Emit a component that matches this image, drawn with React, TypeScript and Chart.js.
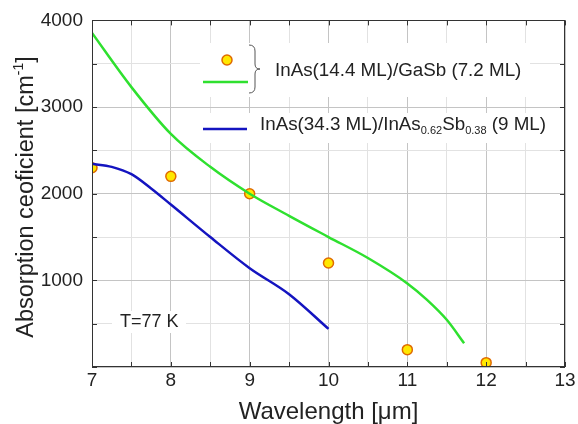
import React, { useEffect, useRef } from "react";
import { Chart, registerables } from "chart.js";
Chart.register(...registerables);

// Measured data points (yellow circles)
const dotX = [7, 8, 9, 10, 11, 12];
const dotY = [2300, 2200, 2000, 1200, 200, 50];

// Green curve: InAs(14.4 ML)/GaSb (7.2 ML)
const greenX = [7.0, 7.5, 8.0, 8.5, 9.0, 9.5, 10.0, 10.5, 11.0, 11.25, 11.5, 11.72];
const greenY = [3855, 3230, 2690, 2310, 2000, 1745, 1500, 1258, 965, 775, 545, 275];

// Blue curve: InAs(34.3 ML)/InAs0.62Sb0.38 (9 ML)
const blueX = [7.0, 7.25, 7.5, 7.75, 8.0, 8.5, 9.0, 9.5, 10.0];
const blueY = [2345, 2310, 2225, 2060, 1875, 1500, 1140, 840, 440];

const xMin = 7, xMax = 13, xStep = 0.5;
const yMin = 0, yMax = 4000, yStep = 500;
const xLabelStep = 1;
const yLabelStep = 1000;

const FONT = '"Liberation Sans", Arial, sans-serif';
const TXT = "#222";
const GREEN = "#2fe02f";
const BLUE = "#1414c0";
const DOT_FILL = "#ffe800";
const DOT_EDGE = "#e06a00";

type Seg = { t: string; size: number; dy: number };

function drawSegs(ctx: CanvasRenderingContext2D, segs: Seg[], x: number, y: number) {
  let cx = x;
  for (const s of segs) {
    ctx.font = `${s.size}px ${FONT}`;
    ctx.fillText(s.t, cx, y + s.dy);
    cx += ctx.measureText(s.t).width;
  }
  return cx - x;
}
function segsWidth(ctx: CanvasRenderingContext2D, segs: Seg[]) {
  let w = 0;
  for (const s of segs) {
    ctx.font = `${s.size}px ${FONT}`;
    w += ctx.measureText(s.t).width;
  }
  return w;
}

const decor = {
  id: "decor",
  afterDraw(chart: any) {
    const ctx: CanvasRenderingContext2D = chart.ctx;
    const a = chart.chartArea;
    const xs = chart.scales.x;
    const ys = chart.scales.y;
    ctx.save();

    // Frame with inward ticks on all sides
    ctx.strokeStyle = "#333";
    ctx.lineWidth = 1;
    ctx.strokeRect(Math.round(a.left) + 0.5, Math.round(a.top) + 0.5, Math.round(a.right - a.left) - 1, Math.round(a.bottom - a.top) - 1);
    ctx.beginPath();
    for (let v = xMin; v <= xMax + 1e-9; v += xStep) {
      const px = Math.round(xs.getPixelForValue(v)) + 0.5;
      ctx.moveTo(px, a.bottom); ctx.lineTo(px, a.bottom - 5);
      ctx.moveTo(px, a.top); ctx.lineTo(px, a.top + 5);
    }
    for (let v = yMin; v <= yMax + 1e-9; v += yStep) {
      const py = Math.round(ys.getPixelForValue(v)) + 0.5;
      ctx.moveTo(a.left, py); ctx.lineTo(a.left + 5, py);
      ctx.moveTo(a.right, py); ctx.lineTo(a.right - 5, py);
    }
    ctx.stroke();

    // Legend boxes (white background)
    ctx.fillStyle = "#fff";
    ctx.fillRect(200, 43, 330, 54);
    ctx.fillRect(200, 113, 348, 30);
    ctx.fillRect(112, 311, 74, 22);

    // Legend entry 1: dot + green line + brace
    ctx.beginPath();
    ctx.arc(227, 60, 5, 0, Math.PI * 2);
    ctx.fillStyle = DOT_FILL;
    ctx.fill();
    ctx.lineWidth = 1.5;
    ctx.strokeStyle = DOT_EDGE;
    ctx.stroke();

    ctx.beginPath();
    ctx.moveTo(203, 82); ctx.lineTo(248, 82);
    ctx.strokeStyle = GREEN; ctx.lineWidth = 2.5; ctx.stroke();

    ctx.beginPath();
    ctx.strokeStyle = "#555"; ctx.lineWidth = 1;
    ctx.moveTo(249, 45);
    ctx.quadraticCurveTo(255, 45, 255, 51);
    ctx.lineTo(255, 64);
    ctx.quadraticCurveTo(255, 69, 260, 69);
    ctx.quadraticCurveTo(255, 69, 255, 74);
    ctx.lineTo(255, 87);
    ctx.quadraticCurveTo(255, 93, 249, 93);
    ctx.stroke();

    ctx.fillStyle = TXT;
    ctx.textBaseline = "middle";
    ctx.textAlign = "left";
    drawSegs(ctx, [{ t: "InAs(14.4 ML)/GaSb (7.2 ML)", size: 18.8, dy: 0 }], 275, 71);

    // Legend entry 2
    ctx.beginPath();
    ctx.moveTo(203, 129); ctx.lineTo(247, 129);
    ctx.strokeStyle = BLUE; ctx.lineWidth = 2.5; ctx.stroke();
    ctx.fillStyle = TXT;
    drawSegs(ctx, [
      { t: "InAs(34.3 ML)/InAs", size: 18.8, dy: 0 },
      { t: "0.62", size: 11, dy: 6 },
      { t: "Sb", size: 18.8, dy: 0 },
      { t: "0.38", size: 11, dy: 6 },
      { t: " (9 ML)", size: 18.8, dy: 0 },
    ], 260, 125);

    // Temperature note
    drawSegs(ctx, [{ t: "T=77 K", size: 18, dy: 0 }], 120, 322);

    // X title
    ctx.textAlign = "center";
    ctx.font = `24px ${FONT}`;
    ctx.fillText("Wavelength [\u03bcm]", 328.5, 412);

    // Y title (rotated) with superscript
    ctx.textAlign = "left";
    const ySegs: Seg[] = [
      { t: "Absorption ceoficient [cm", size: 23.5, dy: 0 },
      { t: "-1", size: 14, dy: -8 },
      { t: "]", size: 23.5, dy: 0 },
    ];
    ctx.translate(27, 197);
    ctx.rotate(-Math.PI / 2);
    const w = segsWidth(ctx, ySegs);
    drawSegs(ctx, ySegs, -w / 2, 0);

    ctx.restore();
  },
};

export default function App() {
  const ref = useRef<HTMLCanvasElement | null>(null);
  useEffect(() => {
    if (!ref.current) return;
    const chart = new Chart(ref.current, {
      type: "scatter",
      data: {
        datasets: [
          {
            label: "green",
            data: greenX.map((x, i) => ({ x, y: greenY[i] })),
            showLine: true,
            borderColor: GREEN,
            borderWidth: 2.5,
            pointRadius: 0,
            cubicInterpolationMode: "monotone",
            clip: 0,
          } as any,
          {
            label: "blue",
            data: blueX.map((x, i) => ({ x, y: blueY[i] })),
            showLine: true,
            borderColor: BLUE,
            borderWidth: 2.5,
            pointRadius: 0,
            cubicInterpolationMode: "monotone",
            clip: 0,
          } as any,
          {
            label: "dots",
            data: dotX.map((x, i) => ({ x, y: dotY[i] })),
            showLine: false,
            pointRadius: 5,
            pointBackgroundColor: DOT_FILL,
            pointBorderColor: DOT_EDGE,
            pointBorderWidth: 1.5,
            clip: 0,
          } as any,
        ],
      },
      options: {
        animation: false,
        responsive: false,
        devicePixelRatio: 1,
        layout: { padding: { top: 18, right: 13, left: 0, bottom: 0 } },
        plugins: { legend: { display: false }, tooltip: { enabled: false } },
        scales: {
          x: {
            type: "linear",
            min: xMin,
            max: xMax,
            afterFit: (s: any) => { s.height = 57; },
            ticks: {
              stepSize: xStep,
              autoSkip: false,
              maxRotation: 0,
              padding: 2,
              color: TXT,
              font: { family: FONT, size: 19 },
              callback: (v: any) => (Math.abs(v / xLabelStep - Math.round(v / xLabelStep)) < 1e-9 ? String(v) : ""),
            },
            grid: {
              drawTicks: false,
              color: (c: any) => (Number.isInteger(c.tick?.value) ? "#c4c4c4" : "#e2e2e2"),
            },
            border: { display: false },
          },
          y: {
            type: "linear",
            min: yMin,
            max: yMax,
            afterFit: (s: any) => { s.width = 92; },
            ticks: {
              stepSize: yStep,
              autoSkip: false,
              padding: 9,
              color: TXT,
              font: { family: FONT, size: 19 },
              callback: (v: any) => (v !== 0 && v % yLabelStep === 0 ? String(v) : ""),
            },
            grid: {
              drawTicks: false,
              color: (c: any) => (c.tick && c.tick.value % 1000 === 0 ? "#c4c4c4" : "#e2e2e2"),
            },
            border: { display: false },
          },
        },
      },
      plugins: [decor],
    });
    return () => chart.destroy();
  }, []);
  return (
    <div style={{ position: "absolute", left: 0, top: 0, width: 578, height: 424, background: "#fff" }}>
      <canvas ref={ref} width={578} height={424} style={{ width: 578, height: 424, display: "block" }} />
    </div>
  );
}
